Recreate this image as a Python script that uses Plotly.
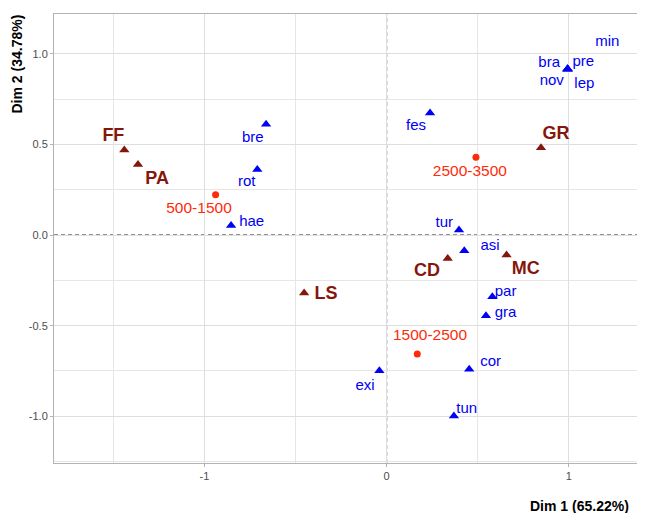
import plotly.graph_objects as go

# Active variable categories (dark red)
act_names = ["FF", "PA", "GR", "LS", "CD", "MC"]
act_x = [-1.44, -1.365, 0.847, -0.453, 0.335, 0.658]
act_y = [0.469, 0.39, 0.482, -0.32, -0.129, -0.11]
act_lx = [-1.50, -1.26, 0.929, -0.333, 0.221, 0.763]
act_ly = [0.546, 0.309, 0.557, -0.326, -0.199, -0.189]

# Supplementary categories (red dots)
sup_names = ["500-1500", "2500-3500", "1500-2500"]
sup_x = [-0.939, 0.49, 0.168]
sup_y = [0.222, 0.43, -0.657]
sup_lx = [-1.03, 0.457, 0.238]
sup_ly = [0.143, 0.348, -0.556]

# Individuals (blue triangles)
ind_names = ["bra", "pre", "nov", "lep", "min", "bre", "rot", "hae", "fes",
             "tur", "asi", "par", "gra", "exi", "cor", "tun"]
ind_x = [0.993, 0.993, 0.993, 0.993, 0.993, -0.662, -0.71, -0.854, 0.238,
         0.397, 0.426, 0.58, 0.545, -0.04, 0.453, 0.369]
ind_y = [0.916, 0.916, 0.916, 0.916, 0.916, 0.612, 0.362, 0.053, 0.673,
         0.028, -0.087, -0.34, -0.445, -0.749, -0.74, -0.999]
ind_lx = [0.892, 1.079, 0.906, 1.085, 1.211, -0.735, -0.768, -0.741, 0.161,
          0.316, 0.567, 0.653, 0.653, -0.119, 0.571, 0.439]
ind_ly = [0.948, 0.956, 0.85, 0.832, 1.063, 0.537, 0.289, 0.072, 0.602,
          0.065, -0.064, -0.313, -0.432, -0.833, -0.703, -0.959]

x_ticks = [-1, 0, 1]
y_ticks = [-1.0, -0.5, 0.0, 0.5, 1.0]

DARK = "#85160C"
RED = "#FF2A0A"
BLUE = "#0000F5"
FONT = "Liberation Sans, Arial, sans-serif"

fig = go.Figure()

# dashed reference lines
fig.add_hline(y=0, line=dict(color="#111111", width=1, dash="4px,3px"), layer="below")
fig.add_vline(x=0, line=dict(color="#111111", width=1, dash="4px,3px"), layer="below")

fig.add_trace(go.Scatter(x=ind_x, y=ind_y, mode="markers",
                         marker=dict(symbol="triangle-up", size=9, color=BLUE),
                         hoverinfo="skip"))
fig.add_trace(go.Scatter(x=sup_x, y=sup_y, mode="markers",
                         marker=dict(symbol="circle", size=7, color=RED),
                         hoverinfo="skip"))
fig.add_trace(go.Scatter(x=act_x, y=act_y, mode="markers",
                         marker=dict(symbol="triangle-up", size=9, color=DARK),
                         hoverinfo="skip"))

# labels
fig.add_trace(go.Scatter(x=ind_lx, y=ind_ly, mode="text", text=ind_names,
                         textfont=dict(family=FONT, size=15, color=BLUE),
                         hoverinfo="skip"))
fig.add_trace(go.Scatter(x=sup_lx, y=sup_ly, mode="text", text=sup_names,
                         textfont=dict(family=FONT, size=15.5, color=RED),
                         hoverinfo="skip"))
fig.add_trace(go.Scatter(x=act_lx, y=act_ly, mode="text",
                         text=["<b>%s</b>" % n for n in act_names],
                         textfont=dict(family=FONT, size=18, color=DARK),
                         hoverinfo="skip"))

axis_common = dict(
    showgrid=True, gridcolor="#DEDEDE", gridwidth=1,
    zeroline=False, showline=True, linecolor="#B3B3B3", linewidth=1, mirror=True,
    ticks="outside", ticklen=3, tickcolor="#B3B3B3",
    tickfont=dict(family=FONT, size=11, color="#4D4D4D"),
)

fig.update_xaxes(range=[-1.826, 1.374], tickvals=x_ticks,
                 ticktext=[str(v) for v in x_ticks],
                 minor=dict(tickvals=[-1.5, -0.5, 0.5], showgrid=True,
                            gridcolor="#E6E6E6", ticks=""),
                 **axis_common)
fig.update_yaxes(range=[-1.258, 1.22], tickvals=y_ticks,
                 ticktext=["%.1f" % v for v in y_ticks],
                 minor=dict(tickvals=[-1.25, -0.75, -0.25, 0.25, 0.75], showgrid=True,
                            gridcolor="#E6E6E6", ticks=""),
                 **axis_common)

fig.add_annotation(text="<b>Dim 1 (65.22%)</b>", xref="paper", yref="paper",
                   x=1.0, y=0, xanchor="right", yanchor="top", yshift=-33, xshift=-6,
                   showarrow=False, font=dict(family=FONT, size=14, color="black"))
fig.add_annotation(text="<b>Dim 2 (34.78%)</b>", xref="paper", yref="paper",
                   x=0, y=1.0, xanchor="right", yanchor="top", xshift=-28, yshift=1,
                   textangle=-90, showarrow=False,
                   font=dict(family=FONT, size=14, color="black"))

# page body has an 8px margin, so the figure is sized to fit inside it
fig.update_layout(
    width=637, height=505,
    margin=dict(l=46, r=8, t=6, b=50),
    plot_bgcolor="white", paper_bgcolor="white",
    showlegend=False,
)

fig.write_html("out.html")
